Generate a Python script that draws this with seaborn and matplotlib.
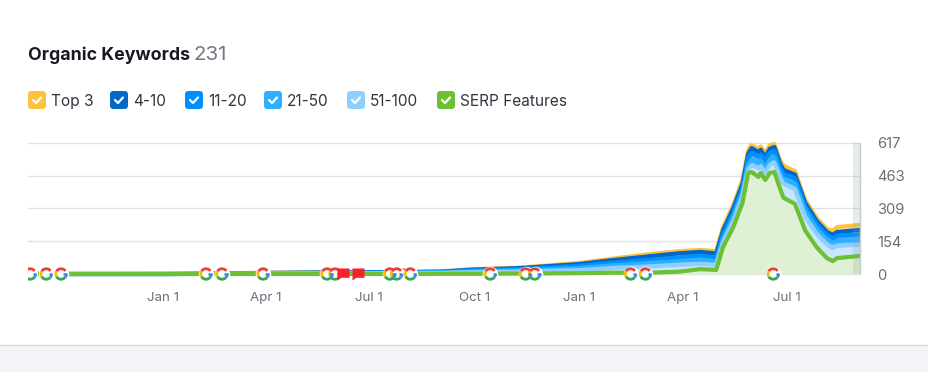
import pandas as pd
import matplotlib.pyplot as plt
import matplotlib.dates as mdates
from matplotlib.patches import FancyBboxPatch, Rectangle
from matplotlib.path import Path
import seaborn as sns

# data
dates = ['2022-09-05', '2023-01-07', '2023-02-11', '2023-03-30', '2023-05-27', '2023-07-28',
         '2023-09-01', '2023-09-27', '2023-11-10', '2024-01-01', '2024-01-28', '2024-03-03',
         '2024-03-29', '2024-04-16', '2024-04-30', '2024-05-06', '2024-05-15', '2024-05-23',
         '2024-05-28', '2024-05-31', '2024-06-06', '2024-06-08', '2024-06-12', '2024-06-16',
         '2024-06-20', '2024-06-25', '2024-06-28', '2024-07-08', '2024-07-17', '2024-07-27',
         '2024-08-05', '2024-08-10', '2024-08-14', '2024-09-03']
top3 = [0, 1, 2, 6, 8, 10, 12, 22, 30, 52, 71, 94, 108, 113, 108, 221, 325, 443, 584, 607,
        590, 600, 570, 607, 612, 537, 509, 485, 349, 264, 212, 203, 221, 231]
r4_10 = [0, 0, 1, 5, 7, 9, 11, 20, 28, 47, 64, 84, 98, 104, 97, 205, 310, 425, 565, 593,
         575, 585, 550, 590, 598, 520, 490, 468, 335, 250, 198, 185, 198, 208]
r11_20 = [0, 0, 1, 4, 6, 8, 10, 16, 23, 38, 52, 66, 78, 85, 78, 185, 290, 405, 545, 570,
          552, 562, 530, 570, 578, 502, 470, 450, 318, 235, 183, 168, 180, 186]
r21_50 = [0, 0, 1, 3, 4, 5, 7, 12, 17, 28, 40, 52, 62, 68, 60, 165, 270, 385, 515, 537,
          522, 532, 500, 540, 548, 475, 445, 425, 300, 215, 165, 148, 155, 160]
r51_100 = [0, 0, 0, 2, 3, 4, 5, 8, 12, 18, 28, 36, 44, 48, 44, 150, 250, 370, 495, 513,
           498, 508, 478, 515, 525, 455, 425, 400, 270, 190, 140, 122, 132, 138]
serp = [0, 0, 0, 0, 0, 0, 1, 1, 2, 4, 6, 6, 11, 23, 19, 127, 221, 334, 476, 480,
        457, 476, 443, 476, 480, 401, 359, 330, 205, 126, 75, 61, 75, 85]

google_dates = ['2022-09-07', '2022-09-21', '2022-10-04', '2023-02-08', '2023-02-22', '2023-03-30',
                '2023-05-25', '2023-06-01', '2023-07-19', '2023-07-25', '2023-08-06', '2023-10-15',
                '2023-11-15', '2023-11-23', '2024-02-15', '2024-02-28', '2024-06-19']
flag_dates_front = ['2023-06-08', '2023-06-21']
flag_dates_back = ['2023-08-03']

y_ticks = [0, 154, 309, 463, 617]
x_tick_dates = ['2023-01-01', '2023-04-01', '2023-07-01', '2023-10-01', '2024-01-01', '2024-04-01', '2024-07-01']
x_tick_labels = ['Jan 1', 'Apr 1', 'Jul 1', 'Oct 1', 'Jan 1', 'Apr 1', 'Jul 1']

legend_names = ['Top 3', '4-10', '11-20', '21-50', '51-100', 'SERP Features']
legend_colors = ['#ffc23d', '#0068c9', '#008ffe', '#2cb0ff', '#8fcfff', '#6bc133']
legend_box_x = [28, 110, 185, 264, 347, 437]

# settings
sns.set_theme(style='white')
plt.rcParams['font.family'] = ['Inter', 'DejaVu Sans']

df = pd.DataFrame({'date': pd.to_datetime(dates), 'Top 3': top3, '4-10': r4_10, '11-20': r11_20,
                   '21-50': r21_50, '51-100': r51_100, 'SERP Features': serp})

fig = plt.figure(figsize=(9.29, 3.72), dpi=100, facecolor='white')
ax = fig.add_axes([28 / 929, (372 - 286) / 372, (860 - 28) / 929, 146 / 372])
ax.patch.set_alpha(0)

# bands between the stacked lines
band_colors = ['#ffe9b8', '#5aa5e6', '#4db0ff', '#7cccff', '#c8e6fe']
stack = legend_names[:5] + ['SERP Features']
for i in range(5):
    ax.fill_between(df['date'], df[stack[i + 1]], df[stack[i]], color=band_colors[i], lw=0, zorder=2)
ax.fill_between(df['date'], 0, df['SERP Features'], color='#dff0d4', lw=0, zorder=2)

for name, color in zip(legend_names, legend_colors):
    sns.lineplot(data=df, x='date', y=name, color=color, lw=3.0, ax=ax, zorder=3,
                 solid_joinstyle='round', legend=False)

# annotation markers on the zero line
google_x = pd.to_datetime(google_dates)
flag_marker = Path([(-1, 1), (1, 1), (1, -0.55), (-0.35, -0.55), (-1, -1), (-1, 1)], closed=True)
ax.scatter(pd.to_datetime(flag_dates_back), [0] * len(flag_dates_back), marker=flag_marker, s=75,
           color='#f5222d', lw=0, zorder=4)
ax.scatter(google_x, [0] * len(google_x), s=125, color='white', lw=0, zorder=5)
arcs = [(35, 150, '#ea4335'), (150, 210, '#fbbc05'), (210, 322, '#34a853'), (322, 360, '#4285f4')]
for t1, t2, color in arcs:
    ax.scatter(google_x, [0] * len(google_x), marker=Path.arc(t1, t2), s=58, facecolors='none',
               edgecolors=color, linewidths=2.0, zorder=6)
bar = Path([(0, 0), (1, 0)])
ax.scatter(google_x + pd.Timedelta(days=2), [0] * len(google_x), marker=bar, s=26, facecolors='none',
           edgecolors='#4285f4', linewidths=1.9, zorder=6)
ax.scatter(pd.to_datetime(flag_dates_front), [0] * len(flag_dates_front), marker=flag_marker, s=75,
           color='#f5222d', lw=0, zorder=7)

# axes
ax.set_xlim(pd.Timestamp('2022-09-05'), pd.Timestamp('2024-09-03'))
ax.set_ylim(-56.5, 631)
ax.set_xlabel('')
ax.set_ylabel('')
ax.set_yticks(y_ticks)
ax.set_yticklabels([str(v) for v in y_ticks])
ax.yaxis.tick_right()
ax.set_xticks(mdates.date2num(pd.to_datetime(x_tick_dates)))
ax.set_xticklabels(x_tick_labels)
ax.tick_params(axis='x', length=0, pad=4.5, labelsize=9.6, labelcolor='#6c6e79')
ax.tick_params(axis='y', length=0, pad=12.5, labelsize=10.6, labelcolor='#6c6e79')
ax.grid(axis='y', color='#e0e1e9', lw=1)
ax.grid(axis='x', visible=False)
ax.set_axisbelow(True)
sns.despine(ax=ax, left=True, right=True, top=True, bottom=True)

# page furniture in pixel coordinates
ov = fig.add_axes([0, 0, 1, 1], zorder=10)
ov.set_xlim(0, 929)
ov.set_ylim(372, 0)
ov.axis('off')
ov.patch.set_alpha(0)

ov.add_patch(Rectangle((853, 143), 7, 131, color='#8a9a9a', alpha=0.2, lw=0))
ov.plot([860, 860], [143, 274], color='#c4cccc', lw=1)
ov.add_patch(Rectangle((0, 345.5), 929, 27, color='#f4f5f9', lw=0))
ov.plot([0, 929], [345, 345], color='#d9d9e0', lw=1)

ov.text(28, 55, 'Organic Keywords', fontsize=12.8, fontweight='bold', color='#171a22', va='center')
ov.text(194, 55, '231', fontsize=14.8, color='#767784', va='center')

for name, color, x in zip(legend_names, legend_colors, legend_box_x):
    ov.add_patch(FancyBboxPatch((x + 3, 94), 12, 12, boxstyle='round,pad=3,rounding_size=3.5',
                                fc=color, ec='none'))
    ov.plot([x + 5, x + 8, x + 13], [100, 103, 97.5], color='white', lw=1.6, solid_capstyle='round')
    ov.text(x + 23, 101.5, name, fontsize=11.1, color='#333540', va='center')

fig.savefig('out.png', dpi=100, facecolor='white')
